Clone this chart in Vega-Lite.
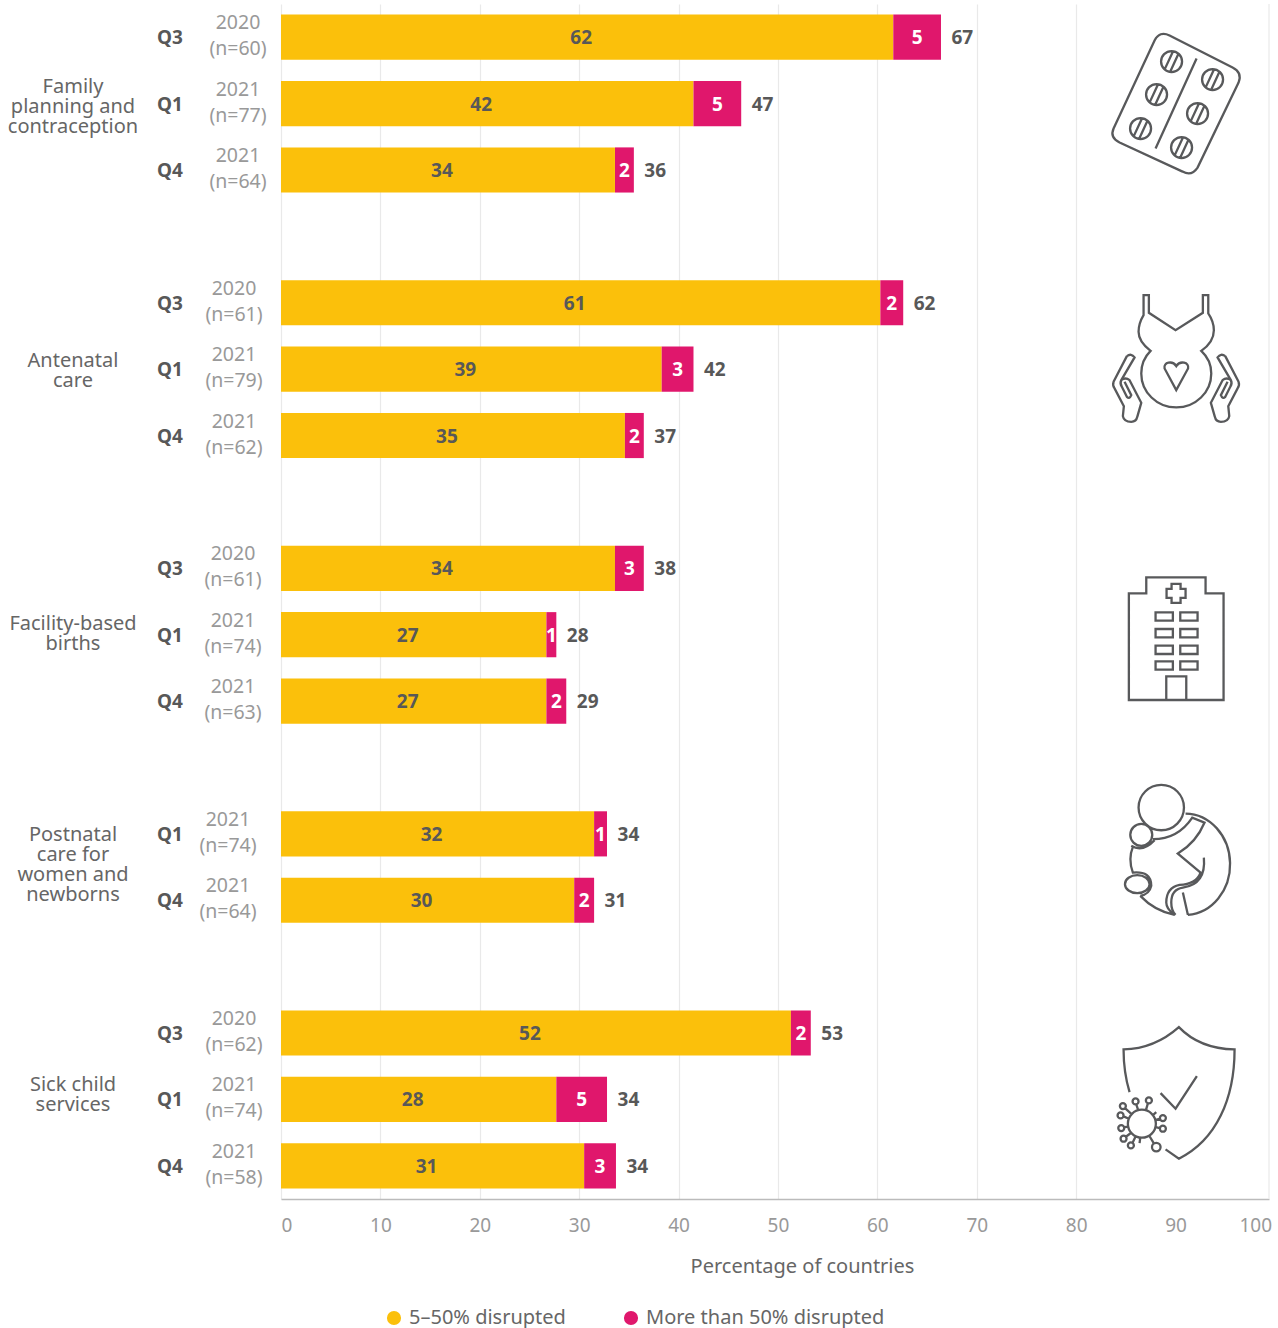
{
"$schema":"https://vega.github.io/schema/vega-lite/v6.json",
"width":988,"height":1195,
"autosize":{"type":"none"},
"padding":{"left":281,"top":4,"right":9,"bottom":129},
"background":"white",
"config":{"view":{"stroke":null},"text":{"font":"Noto Sans"},"axis":{"labelFont":"Noto Sans","titleFont":"Noto Sans"},"legend":{"labelFont":"Noto Sans"}},
"datasets":{
"segments":[
{"row":"Family Q3","series":"5–50% disrupted","value":61.6,"label":"62"},
{"row":"Family Q3","series":"More than 50% disrupted","value":4.8,"label":"5","total":"67"},
{"row":"Family Q1","series":"5–50% disrupted","value":41.5,"label":"42"},
{"row":"Family Q1","series":"More than 50% disrupted","value":4.8,"label":"5","total":"47"},
{"row":"Family Q4","series":"5–50% disrupted","value":33.6,"label":"34"},
{"row":"Family Q4","series":"More than 50% disrupted","value":1.9,"label":"2","total":"36"},
{"row":"Antenatal Q3","series":"5–50% disrupted","value":60.3,"label":"61"},
{"row":"Antenatal Q3","series":"More than 50% disrupted","value":2.3,"label":"2","total":"62"},
{"row":"Antenatal Q1","series":"5–50% disrupted","value":38.3,"label":"39"},
{"row":"Antenatal Q1","series":"More than 50% disrupted","value":3.2,"label":"3","total":"42"},
{"row":"Antenatal Q4","series":"5–50% disrupted","value":34.6,"label":"35"},
{"row":"Antenatal Q4","series":"More than 50% disrupted","value":1.9,"label":"2","total":"37"},
{"row":"Facility Q3","series":"5–50% disrupted","value":33.6,"label":"34"},
{"row":"Facility Q3","series":"More than 50% disrupted","value":2.9,"label":"3","total":"38"},
{"row":"Facility Q1","series":"5–50% disrupted","value":26.7,"label":"27"},
{"row":"Facility Q1","series":"More than 50% disrupted","value":1.0,"label":"1","total":"28"},
{"row":"Facility Q4","series":"5–50% disrupted","value":26.7,"label":"27"},
{"row":"Facility Q4","series":"More than 50% disrupted","value":2.0,"label":"2","total":"29"},
{"row":"Postnatal Q1","series":"5–50% disrupted","value":31.5,"label":"32"},
{"row":"Postnatal Q1","series":"More than 50% disrupted","value":1.3,"label":"1","total":"34"},
{"row":"Postnatal Q4","series":"5–50% disrupted","value":29.5,"label":"30"},
{"row":"Postnatal Q4","series":"More than 50% disrupted","value":2.0,"label":"2","total":"31"},
{"row":"Sick Q3","series":"5–50% disrupted","value":51.3,"label":"52"},
{"row":"Sick Q3","series":"More than 50% disrupted","value":2.0,"label":"2","total":"53"},
{"row":"Sick Q1","series":"5–50% disrupted","value":27.7,"label":"28"},
{"row":"Sick Q1","series":"More than 50% disrupted","value":5.1,"label":"5","total":"34"},
{"row":"Sick Q4","series":"5–50% disrupted","value":30.5,"label":"31"},
{"row":"Sick Q4","series":"More than 50% disrupted","value":3.2,"label":"3","total":"34"}
],
"rows":[
{"row":"Family Q3","group":"Family","quarter":"Q3","year":"2020","n":"(n=60)"},
{"row":"Family Q1","group":"Family","quarter":"Q1","year":"2021","n":"(n=77)"},
{"row":"Family Q4","group":"Family","quarter":"Q4","year":"2021","n":"(n=64)"},
{"row":"Antenatal Q3","group":"Antenatal","quarter":"Q3","year":"2020","n":"(n=61)"},
{"row":"Antenatal Q1","group":"Antenatal","quarter":"Q1","year":"2021","n":"(n=79)"},
{"row":"Antenatal Q4","group":"Antenatal","quarter":"Q4","year":"2021","n":"(n=62)"},
{"row":"Facility Q3","group":"Facility","quarter":"Q3","year":"2020","n":"(n=61)"},
{"row":"Facility Q1","group":"Facility","quarter":"Q1","year":"2021","n":"(n=74)"},
{"row":"Facility Q4","group":"Facility","quarter":"Q4","year":"2021","n":"(n=63)"},
{"row":"Postnatal Q1","group":"Postnatal","quarter":"Q1","year":"2021","n":"(n=74)"},
{"row":"Postnatal Q4","group":"Postnatal","quarter":"Q4","year":"2021","n":"(n=64)"},
{"row":"Sick Q3","group":"Sick","quarter":"Q3","year":"2020","n":"(n=62)"},
{"row":"Sick Q1","group":"Sick","quarter":"Q1","year":"2021","n":"(n=74)"},
{"row":"Sick Q4","group":"Sick","quarter":"Q4","year":"2021","n":"(n=58)"}
],
"groups":[
{"row":"Family Q1","group":"Family","name":"Family\nplanning and\ncontraception"},
{"row":"Antenatal Q1","group":"Antenatal","name":"Antenatal\ncare"},
{"row":"Facility Q1","group":"Facility","name":"Facility-based\nbirths"},
{"row":"Postnatal Q1","group":"Postnatal","name":"Postnatal\ncare for\nwomen and\nnewborns"},
{"row":"Sick Q1","group":"Sick","name":"Sick child\nservices"}
]
},
"layer":[
{"data":{"name":"segments"},
"transform":[{"stack":"value","groupby":["row"],"sort":[{"field":"series"}],"as":["x0","x1"]}],
"mark":{"type":"bar"},
"encoding":{
"x":{"field":"x0","type":"quantitative","scale":{"domain":[0,99.4],"nice":false,"zero":true},
"axis":{"title":"Percentage of countries","values":[0,10,20,30,40,50,60,70,80,90],"labelFlush":false,"labelAlign":{"condition":{"test":"datum.value===0","value":"left"},"value":"center"},"ticks":false,"domainColor":"#bbbbbb","domainWidth":1.5,"labelColor":"#999999","labelFontSize":19,"labelPadding":17,"titleColor":"#666666","titleFontSize":20,"titleFontWeight":"normal","titleX":521,"titleY":67,"titleBaseline":"middle","titleAnchor":null,"grid":true,"gridColor":{"condition":{"test":"datum.value===90","value":"transparent"},"value":"#e9e9e9"},"gridWidth":1.2}},
"x2":{"field":"x1"},
"y":{"field":"row","type":"nominal","axis":null,"sort":null,"scale":{"type":"band","paddingInner":0.32,"paddingOuter":0.16,"domain":["Family Q3","Family Q1","Family Q4","gap1","Antenatal Q3","Antenatal Q1","Antenatal Q4","gap2","Facility Q3","Facility Q1","Facility Q4","gap3","Postnatal Q1","Postnatal Q4","gap4","Sick Q3","Sick Q1","Sick Q4"]}},
"color":{"field":"series","type":"nominal","scale":{"domain":["5–50% disrupted","More than 50% disrupted"],"range":["#FBC00B","#E0176C"]},
"legend":{"title":null,"orient":"none","legendX":103,"legendY":1304,"direction":"horizontal","symbolType":"circle","symbolSize":200,"labelFontSize":20,"labelColor":"#666666","labelLimit":400,"columnPadding":55,"labelOffset":5,"symbolStrokeWidth":0}}
}},
{"data":{"values":[{"tick":"100"}]},
"mark":{"type":"text","fontSize":19,"color":"#999999","align":"right","dx":3,"dy":60,"baseline":"middle","font":"Noto Sans"},
"encoding":{"x":{"datum":99.4,"type":"quantitative"},"y":{"datum":"Sick Q4","type":"nominal"},"text":{"field":"tick"}}},
{"data":{"name":"segments"},
"mark":{"type":"rule","color":"#e9e9e9","strokeWidth":1.2},
"transform":[{"filter":"datum.row==='Family Q3' && datum.total"}],
"encoding":{"x":{"datum":99.4,"type":"quantitative"}}},
{"data":{"name":"segments"},
"transform":[{"stack":"value","groupby":["row"],"sort":[{"field":"series"}],"as":["x0","x1"]},{"calculate":"(datum.x0+datum.x1)/2","as":"mid"},{"filter":"!datum.total"}],
"mark":{"type":"text","fontSize":19,"fontWeight":"bold","color":"#585858","dx":-6,"dy":1,"baseline":"middle","font":"Noto Sans"},
"encoding":{"x":{"field":"mid","type":"quantitative"},"y":{"field":"row","type":"nominal"},"text":{"field":"label"}}},
{"data":{"name":"segments"},
"transform":[{"stack":"value","groupby":["row"],"sort":[{"field":"series"}],"as":["x0","x1"]},{"calculate":"(datum.x0+datum.x1)/2","as":"mid"},{"filter":"datum.total"}],
"mark":{"type":"text","fontSize":19,"fontWeight":"bold","color":"white","dy":1,"baseline":"middle","font":"Noto Sans"},
"encoding":{"x":{"field":"mid","type":"quantitative"},"y":{"field":"row","type":"nominal"},"text":{"field":"label"}}},
{"data":{"name":"segments"},
"transform":[{"stack":"value","groupby":["row"],"sort":[{"field":"series"}],"as":["x0","x1"]},{"filter":"datum.total"}],
"mark":{"type":"text","fontSize":19,"fontWeight":"bold","color":"#585858","align":"left","dx":10.5,"dy":1,"baseline":"middle","font":"Noto Sans"},
"encoding":{"x":{"field":"x1","type":"quantitative"},"y":{"field":"row","type":"nominal"},"text":{"field":"total"}}},
{"data":{"name":"rows"},
"mark":{"type":"text","fontSize":19,"fontWeight":"bold","color":"#585858","align":"center","dx":-111,"dy":1,"baseline":"middle","font":"Noto Sans"},
"encoding":{"x":{"datum":0,"type":"quantitative"},"y":{"field":"row","type":"nominal"},"text":{"field":"quarter"}}},
{"data":{"name":"rows"},
"mark":{"type":"text","fontSize":19.5,"color":"#999999","align":"center","dy":-14,"baseline":"middle","font":"Noto Sans","dx":{"expr":"datum.group==='Family'?-43:datum.group==='Postnatal'?-53:datum.group==='Sick'?-47:datum.group==='Antenatal'?-47:-48"}},
"encoding":{"x":{"datum":0,"type":"quantitative"},"y":{"field":"row","type":"nominal"},"text":{"field":"year"}}},
{"data":{"name":"rows"},
"mark":{"type":"text","fontSize":19.5,"color":"#999999","align":"center","dy":12,"baseline":"middle","font":"Noto Sans","dx":{"expr":"datum.group==='Family'?-43:datum.group==='Postnatal'?-53:datum.group==='Sick'?-47:datum.group==='Antenatal'?-47:-48"}},
"encoding":{"x":{"datum":0,"type":"quantitative"},"y":{"field":"row","type":"nominal"},"text":{"field":"n"}}},
{"data":{"name":"groups"},
"mark":{"type":"text","fontSize":20,"color":"#666666","align":"center","dx":-208,"baseline":"middle","lineBreak":"\n","lineHeight":20,"font":"Noto Sans","dy":{"expr":"datum.group==='Family'?-17:datum.group==='Postnatal'?1:datum.group==='Sick'?-14:datum.group==='Antenatal'?-8:-11"}},
"encoding":{"x":{"datum":0,"type":"quantitative"},"y":{"field":"row","type":"nominal"},"text":{"field":"name"}}},
{"data":{"name":"groups"},
"mark":{"type":"point","filled":false,"stroke":"#58595b","strokeWidth":2.3,"opacity":1,"size":40000},
"encoding":{"x":{"datum":90,"type":"quantitative"},"y":{"field":"row","type":"nominal"},
"shape":{"field":"group","type":"nominal","legend":null,"scale":{"domain":["Family","Antenatal","Facility","Postnatal","Sick"],"range":[
"M-0.06 -0.68 L0.57 -0.36 Q0.67 -0.31 0.63 -0.21 L0.22 0.64 Q0.16 0.73 0.07 0.68 L-0.56 0.39 Q-0.66 0.34 -0.62 0.25 L-0.21 -0.63 Q-0.16 -0.73 -0.06 -0.68 Z M0.21 -0.45 L-0.2 0.45 M-0.145 -0.42 a0.105 0.105 0 1 0 0.21 0 a0.105 0.105 0 1 0 -0.21 0 M-0.055 -0.316 l0.084 -0.182 M-0.109 -0.342 l0.084 -0.182 M-0.295 -0.09 a0.105 0.105 0 1 0 0.21 0 a0.105 0.105 0 1 0 -0.21 0 M-0.205 0.014 l0.084 -0.182 M-0.259 -0.012 l0.084 -0.182 M-0.455 0.25 a0.105 0.105 0 1 0 0.21 0 a0.105 0.105 0 1 0 -0.21 0 M-0.365 0.354 l0.084 -0.182 M-0.419 0.328 l0.084 -0.182 M0.265 -0.24 a0.105 0.105 0 1 0 0.21 0 a0.105 0.105 0 1 0 -0.21 0 M0.355 -0.136 l0.084 -0.182 M0.301 -0.162 l0.084 -0.182 M0.115 0.1 a0.105 0.105 0 1 0 0.21 0 a0.105 0.105 0 1 0 -0.21 0 M0.205 0.204 l0.084 -0.182 M0.151 0.178 l0.084 -0.182 M-0.045 0.44 a0.105 0.105 0 1 0 0.21 0 a0.105 0.105 0 1 0 -0.21 0 M0.045 0.544 l0.084 -0.182 M-0.009 0.518 l0.084 -0.182",
"M-0.32 -0.74 L-0.267 -0.74 L-0.267 -0.563 L0 -0.39 L0.273 -0.563 L0.273 -0.74 L0.327 -0.74 L0.327 -0.557 Q0.383 -0.473 0.383 -0.39 Q0.383 -0.273 0.257 -0.183 Q0.357 -0.09 0.357 0.043 A0.35 0.34 0 0 1 -0.343 0.043 Q-0.343 -0.09 -0.25 -0.183 Q-0.37 -0.273 -0.37 -0.373 Q-0.37 -0.457 -0.32 -0.54 Z M0.007 0.21 L-0.11 -0.007 C-0.125 -0.07 -0.03 -0.09 0.007 -0.03 C0.045 -0.09 0.14 -0.07 0.125 -0.007 Z M-0.487 -0.13 L-0.62 0.127 Q-0.633 0.16 -0.61 0.193 L-0.517 0.37 L-0.527 0.47 Q-0.517 0.527 -0.443 0.527 Q-0.393 0.527 -0.383 0.477 L-0.343 0.337 L-0.46 0.11 Q-0.5 0.077 -0.543 0.11 Q-0.56 0.143 -0.537 0.177 L-0.487 0.277 Q-0.46 0.303 -0.443 0.26 L-0.51 0.127 M-0.487 -0.13 Q-0.443 -0.163 -0.41 -0.117 L-0.543 0.11 M0.497 -0.13 L0.63 0.127 Q0.643 0.16 0.62 0.193 L0.527 0.37 L0.537 0.47 Q0.527 0.527 0.453 0.527 Q0.403 0.527 0.393 0.477 L0.353 0.337 L0.47 0.11 Q0.51 0.077 0.553 0.11 Q0.57 0.143 0.547 0.177 L0.497 0.277 Q0.47 0.303 0.453 0.26 L0.52 0.127 M0.497 -0.13 Q0.453 -0.163 0.42 -0.117 L0.553 0.11",
"M-0.467 0.653 L-0.467 -0.413 L-0.293 -0.413 L-0.293 -0.573 L0.3 -0.573 L0.3 -0.413 L0.48 -0.413 L0.48 0.653 Z M-0.093 0.653 L-0.093 0.417 L0.107 0.417 L0.107 0.653 M-0.2 -0.223 L-0.027 -0.223 L-0.027 -0.14 L-0.2 -0.14 Z M0.047 -0.223 L0.22 -0.223 L0.22 -0.14 L0.047 -0.14 Z M-0.2 -0.057 L-0.027 -0.057 L-0.027 0.027 L-0.2 0.027 Z M0.047 -0.057 L0.22 -0.057 L0.22 0.027 L0.047 0.027 Z M-0.2 0.11 L-0.027 0.11 L-0.027 0.193 L-0.2 0.193 Z M0.047 0.11 L0.22 0.11 L0.22 0.193 L0.047 0.193 Z M-0.2 0.267 L-0.027 0.267 L-0.027 0.35 L-0.2 0.35 Z M0.047 0.267 L0.22 0.267 L0.22 0.35 L0.047 0.35 Z M-0.04 -0.508 l0.09 0 l0 0.05 l0.05 0 l0 0.09 l-0.05 0 l0 0.05 l-0.09 0 l0 -0.05 l-0.05 0 l0 -0.09 l0.05 0 Z",
"M-0.37 -0.263 a0.227 0.227 0 1 0 0.454 0 a0.227 0.227 0 1 0 -0.454 0 M-0.453 0.01 a0.11 0.11 0 1 0 0.22 0 a0.11 0.11 0 1 0 -0.22 0 M0.1 -0.203 A0.45 0.507 0 0 1 0.123 0.81 M-0.01 0.81 Q-0.21 0.77 -0.353 0.62 M-0.427 0.13 Q-0.477 0.253 -0.427 0.387 Q-0.243 0.37 -0.243 0.52 Q-0.26 0.603 -0.353 0.62 M-0.506 0.503 a0.123 0.09 0 1 0 0.246 0 a0.123 0.09 0 1 0 -0.246 0 M-0.227 0.053 Q0.023 0.053 0.167 -0.163 L0.29 -0.113 Q0.207 0.087 0.023 0.197 L0.25 0.387 Q0.207 0.503 0.04 0.51 Q-0.093 0.537 -0.093 0.687 Q-0.093 0.753 -0.01 0.81 M0.283 0.237 Q0.307 0.503 0.073 0.537 Q-0.043 0.553 -0.043 0.687 Q-0.043 0.77 0 0.81 M0.073 0.587 L0.123 0.81 M-0.443 0.12 Q-0.327 0.187 -0.21 0.063",
"M-0.46 -0.073 Q-0.52 -0.273 -0.52 -0.5 Q-0.21 -0.507 0.033 -0.723 Q0.24 -0.507 0.59 -0.5 C0.59 -0.007 0.407 0.407 0.033 0.593 L-0.1 0.5 M-0.15 -0.063 L0 0.093 L0.213 -0.233 M-0.477 0.243 a0.14 0.14 0 1 0 0.28 0 a0.14 0.14 0 1 0 -0.28 0 M-0.44 0.147 L-0.503 0.09 M-0.557 0.067 a0.03 0.03 0 1 0 0.06 0 a0.03 0.03 0 1 0 -0.06 0 M-0.373 0.11 L-0.393 0.05 M-0.43 0.02 a0.03 0.03 0 1 0 0.06 0 a0.03 0.03 0 1 0 -0.06 0 M-0.297 0.11 L-0.277 0.04 M-0.297 0.01 a0.03 0.03 0 1 0 0.06 0 a0.03 0.03 0 1 0 -0.06 0 M-0.227 0.157 L-0.193 0.127 M-0.2 0.207 L-0.157 0.193 M-0.157 0.187 a0.03 0.03 0 1 0 0.06 0 a0.03 0.03 0 1 0 -0.06 0 M-0.2 0.277 L-0.157 0.287 M-0.157 0.293 a0.03 0.03 0 1 0 0.06 0 a0.03 0.03 0 1 0 -0.06 0 M-0.263 0.363 L-0.217 0.44 M-0.236 0.477 a0.043 0.043 0 1 0 0.086 0 a0.043 0.043 0 1 0 -0.086 0 M-0.353 0.383 L-0.36 0.437 M-0.4 0.37 L-0.43 0.433 M-0.477 0.46 a0.03 0.03 0 1 0 0.06 0 a0.03 0.03 0 1 0 -0.06 0 M-0.443 0.333 L-0.497 0.373 M-0.55 0.393 a0.03 0.03 0 1 0 0.06 0 a0.03 0.03 0 1 0 -0.06 0 M-0.473 0.27 L-0.513 0.28 M-0.573 0.287 a0.03 0.03 0 1 0 0.06 0 a0.03 0.03 0 1 0 -0.06 0 M-0.467 0.193 L-0.52 0.17 M-0.58 0.16 a0.03 0.03 0 1 0 0.06 0 a0.03 0.03 0 1 0 -0.06 0"
]}}}}
]
}
